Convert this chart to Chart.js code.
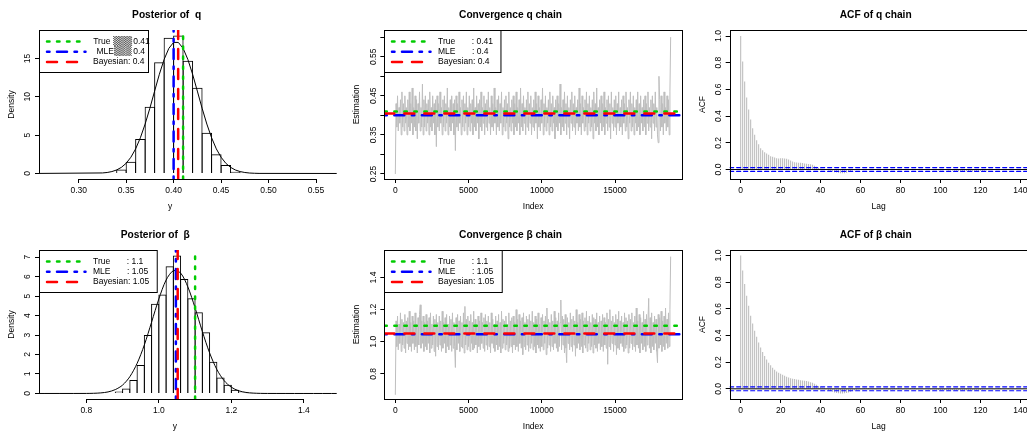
<!DOCTYPE html>
<html>
<head>
<meta charset="utf-8">
<script src="https://cdn.jsdelivr.net/npm/chart.js@4.4.1/dist/chart.umd.min.js"></script>
<style>
html,body{margin:0;padding:0;background:#fff;}
body{position:relative;width:1027px;height:432px;overflow:hidden;}
canvas{position:absolute;}
</style>
</head>
<body>
<canvas id="p1"></canvas><canvas id="p2"></canvas><canvas id="p3"></canvas>
<canvas id="p4"></canvas><canvas id="p5"></canvas><canvas id="p6"></canvas>
<script>
// ================= DATA =================
// reference values
const qTrue = 0.41, qMLE = 0.400, qBayes = 0.4048;
const bTrue = 1.10, bMLE = 1.047, bBayes = 1.052;
const ciACF = 0.0146;

// posterior histogram of q (bin mid-points, density)
const qBinWidth = 0.01;
const qBinMid = [0.275,0.285,0.295,0.305,0.315,0.325,0.335,0.345,0.355,0.365,0.375,0.385,0.395,0.405,0.415,0.425,0.435,0.445,0.455,0.465,0.475,0.485,0.495,0.505,0.515,0.525,0.535,0.545,0.555];
const qBinDensity = [0,0,0,0,0,0,0.06,0.52,1.52,4.5,8.7,14.5,17.7,18.0,14.7,11.2,5.3,2.5,1.1,0.22,0.03,0,0,0,0,0,0,0,0];
// density curve of q
const qDensX = [0.25,0.325,0.33,0.335,0.34,0.345,0.35,0.355,0.36,0.365,0.37,0.375,0.38,0.385,0.39,0.395,0.40,0.405,0.41,0.415,0.42,0.425,0.43,0.435,0.44,0.445,0.45,0.455,0.46,0.465,0.47,0.475,0.48,0.485,0.49,0.58];
const qDensY = [0,0.07,0.13,0.25,0.46,0.80,1.33,2.12,3.21,4.66,6.45,8.52,10.75,12.95,14.88,16.33,17.10,17.10,16.33,14.88,12.95,10.75,8.52,6.45,4.66,3.21,2.12,1.33,0.80,0.46,0.25,0.13,0.06,0.03,0.01,0];

// posterior histogram of beta
const bBinWidth = 0.02;
const bBinMid = [0.71,0.73,0.75,0.77,0.79,0.81,0.83,0.85,0.87,0.89,0.91,0.93,0.95,0.97,0.99,1.01,1.03,1.05,1.07,1.09,1.11,1.13,1.15,1.17,1.19,1.21,1.23,1.25,1.27,1.29,1.31,1.33,1.35,1.37,1.39,1.41,1.43,1.45];
const bBinDensity = [0,0,0,0,0,0,0,0,0.02,0.1,0.26,0.69,1.46,3.0,4.6,5.08,6.53,7.08,5.87,4.89,4.17,3.14,1.63,0.82,0.45,0.19,0.05,0.01,0,0,0,0,0,0,0,0,0,0];
const bDensX = [0.65,0.80,0.82,0.84,0.86,0.88,0.90,0.92,0.94,0.96,0.98,1.00,1.02,1.04,1.06,1.08,1.10,1.12,1.14,1.16,1.18,1.20,1.22,1.24,1.26,1.28,1.30,1.50];
const bDensY = [0,0.003,0.01,0.03,0.08,0.20,0.43,0.86,1.54,2.49,3.66,4.85,5.82,6.30,6.18,5.47,4.39,3.18,2.08,1.23,0.66,0.32,0.14,0.055,0.02,0.006,0.002,0];

// MCMC chains (thinned: one value every chainStep iterations)
const chainStep = 50;
const qChain = [
0.25,0.43,0.37,0.45,0.36,0.42,0.38,0.44,0.35,0.46,0.37,0.43,0.36,0.45,0.38,0.42,0.35,0.44,0.37,0.46,
0.36,0.43,0.38,0.47,0.35,0.42,0.37,0.45,0.36,0.44,0.34,0.43,0.38,0.46,0.36,0.42,0.37,0.48,0.35,0.44,
0.37,0.45,0.36,0.43,0.38,0.44,0.35,0.46,0.37,0.42,0.36,0.45,0.38,0.43,0.35,0.44,0.32,0.45,0.37,0.43,
0.36,0.46,0.38,0.42,0.35,0.44,0.37,0.45,0.36,0.43,0.38,0.47,0.35,0.42,0.37,0.44,0.36,0.45,0.38,0.43,
0.35,0.44,0.31,0.45,0.37,0.43,0.36,0.46,0.38,0.42,0.35,0.44,0.37,0.45,0.36,0.43,0.38,0.46,0.35,0.42,
0.37,0.45,0.36,0.43,0.38,0.44,0.35,0.47,0.37,0.42,0.36,0.45,0.38,0.43,0.34,0.44,0.37,0.46,0.36,0.42,
0.38,0.45,0.35,0.43,0.37,0.44,0.36,0.46,0.38,0.42,0.35,0.45,0.37,0.43,0.36,0.47,0.38,0.42,0.35,0.44,
0.37,0.45,0.36,0.43,0.38,0.46,0.35,0.42,0.37,0.44,0.36,0.45,0.38,0.43,0.34,0.46,0.37,0.42,0.36,0.44,
0.38,0.45,0.35,0.43,0.37,0.46,0.36,0.42,0.38,0.44,0.35,0.47,0.37,0.43,0.36,0.45,0.38,0.42,0.35,0.44,
0.37,0.46,0.36,0.43,0.38,0.45,0.35,0.42,0.37,0.44,0.36,0.46,0.38,0.43,0.34,0.45,0.37,0.42,0.36,0.44,
0.38,0.47,0.35,0.43,0.37,0.45,0.36,0.42,0.38,0.44,0.35,0.46,0.37,0.43,0.36,0.45,0.38,0.42,0.34,0.44,
0.37,0.45,0.36,0.43,0.38,0.48,0.35,0.42,0.37,0.44,0.36,0.46,0.38,0.43,0.35,0.45,0.37,0.42,0.34,0.44,
0.38,0.46,0.36,0.43,0.37,0.45,0.35,0.42,0.38,0.44,0.36,0.47,0.37,0.43,0.35,0.45,0.38,0.42,0.36,0.44,
0.37,0.46,0.35,0.43,0.38,0.45,0.36,0.42,0.37,0.44,0.34,0.46,0.38,0.43,0.36,0.47,0.37,0.42,0.35,0.44,
0.38,0.45,0.36,0.43,0.37,0.46,0.35,0.42,0.38,0.44,0.36,0.45,0.37,0.43,0.34,0.46,0.38,0.42,0.36,0.44,
0.37,0.45,0.35,0.43,0.38,0.46,0.36,0.42,0.37,0.44,0.35,0.45,0.38,0.43,0.36,0.46,0.37,0.42,0.34,0.44,
0.38,0.46,0.36,0.43,0.37,0.45,0.35,0.42,0.38,0.44,0.36,0.46,0.37,0.43,0.35,0.45,0.38,0.42,0.36,0.44,
0.37,0.45,0.35,0.43,0.38,0.46,0.36,0.42,0.37,0.44,0.34,0.45,0.38,0.43,0.36,0.46,0.37,0.42,0.35,0.33,
0.50,0.44,0.36,0.45,0.37,0.43,0.35,0.46,0.38,0.42,0.36,0.45,0.37,0.44,0.35,0.46,0.60];
const bChain = [
0.67,1.13,0.97,1.16,0.95,1.11,0.99,1.18,0.94,1.14,0.98,1.12,0.96,1.17,0.93,1.13,0.99,1.15,0.95,1.19,
0.97,1.12,0.94,1.16,0.99,1.13,0.95,1.18,0.97,1.11,0.93,1.15,0.98,1.17,1.23,0.96,1.13,0.99,1.16,0.94,
1.12,0.97,1.17,0.95,1.13,0.99,1.15,0.93,1.18,0.96,1.11,0.98,1.16,0.94,1.14,0.91,1.17,0.97,1.12,0.95,
1.16,0.98,1.13,0.94,1.19,0.96,1.12,0.99,1.15,0.93,1.17,0.97,1.11,0.95,1.16,0.98,1.14,0.94,1.18,0.96,
1.12,0.97,0.84,1.15,0.95,1.17,0.99,1.13,0.94,1.16,0.97,1.12,0.96,1.18,0.93,1.22,0.98,1.14,0.95,1.16,
0.97,1.13,0.94,1.17,0.99,1.12,0.95,1.19,0.96,1.14,0.98,1.11,0.93,1.16,0.97,1.13,0.95,1.18,0.99,1.12,
0.96,1.15,0.94,1.17,0.98,1.13,0.95,1.16,0.97,1.12,0.93,1.18,0.99,1.14,0.96,1.11,0.94,1.16,0.98,1.13,
0.95,1.17,0.97,1.12,0.93,1.19,0.96,1.14,0.99,1.13,0.95,1.16,0.98,1.11,0.94,1.18,0.96,1.13,0.97,1.15,
0.93,1.16,0.98,1.12,0.95,1.20,0.97,1.14,0.94,1.17,0.99,1.13,0.96,1.15,0.92,1.18,0.97,1.12,0.95,1.16,
0.98,1.14,0.94,1.17,0.96,1.13,0.99,1.19,0.95,1.12,0.97,1.16,0.93,1.14,0.98,1.18,0.96,1.11,0.94,1.15,
0.97,1.17,0.95,1.13,0.99,1.16,0.92,1.21,0.96,1.14,0.98,1.12,0.94,1.17,0.97,1.13,0.95,1.19,0.99,1.15,
0.96,1.13,0.94,1.18,0.97,1.12,1.26,0.95,1.16,0.98,1.14,0.93,1.17,0.96,0.87,1.15,0.99,1.12,0.95,1.18,
0.97,1.14,0.94,1.16,0.98,1.13,0.91,1.20,0.96,1.12,0.99,1.17,0.95,1.14,0.97,1.18,0.93,1.13,0.98,1.15,
0.96,1.19,0.94,1.13,0.99,1.16,0.95,1.12,0.97,1.17,0.93,1.15,0.98,1.14,0.96,1.18,0.94,1.12,0.99,1.16,
0.95,1.13,0.97,1.17,0.94,1.15,0.98,1.12,0.96,1.18,0.86,1.14,0.97,1.20,0.95,1.13,0.99,1.16,0.94,1.12,
0.98,1.17,0.92,1.14,0.96,1.19,0.95,1.13,0.99,1.16,0.97,1.12,0.94,1.18,0.96,1.15,0.98,1.13,0.93,1.17,
0.96,1.14,0.99,1.18,0.95,1.12,0.97,1.16,0.94,1.21,0.98,1.13,0.96,1.17,0.93,1.15,0.99,1.12,0.95,1.19,
0.97,1.14,0.94,1.17,0.98,1.13,1.27,0.96,1.15,0.93,1.18,0.97,1.12,0.95,1.16,0.99,1.14,0.94,0.87,1.17,
0.96,1.15,0.98,1.19,0.94,1.13,0.97,1.16,0.95,1.21,0.99,1.14,0.96,1.18,0.97,1.20,1.53];

// autocorrelation by lag (lag = position in array)
const acfQ = [
1.0,0.81,0.66,0.54,0.45,0.375,0.31,0.26,0.22,0.19,
0.16,0.145,0.13,0.12,0.11,0.10,0.095,0.09,0.085,0.083,
0.085,0.085,0.083,0.08,0.075,0.068,0.06,0.055,0.052,0.05,
0.05,0.048,0.045,0.043,0.042,0.04,0.035,0.028,0.02,0.012,
0.007,0.003,0.0,-0.003,-0.006,-0.01,-0.015,-0.02,-0.022,-0.025,
-0.027,-0.028,-0.027,-0.024,-0.018,-0.012,-0.008,-0.005,-0.003,0.002,
0.003,0.002,-0.002,0.001,0.004,0.003,0.001,-0.002,-0.003,0.001,
0.002,0.004,0.003,0.0,-0.002,-0.001,0.002,0.003,0.001,-0.002,
-0.003,-0.002,0.001,0.003,0.002,-0.001,-0.003,-0.002,0.001,0.002,
0.003,0.001,-0.002,-0.004,-0.003,0.0,0.002,0.001,-0.003,-0.005,
-0.006,-0.005,-0.004,-0.006,-0.007,-0.006,-0.008,-0.009,-0.01,-0.011,
-0.012,-0.013,-0.014,-0.013,-0.014,-0.015,-0.014,-0.013,-0.012,-0.013,
-0.012,-0.011,-0.009,-0.007,-0.005,-0.003,-0.002,0.0,0.001,0.002,
0.001,0.0,-0.001,0.001,0.002,0.001,0.0,-0.001,0.001];
const acfB = [
1.0,0.887,0.786,0.698,0.623,0.548,0.49,0.435,0.39,0.347,
0.31,0.276,0.246,0.219,0.196,0.176,0.158,0.143,0.13,0.12,
0.113,0.105,0.098,0.09,0.085,0.08,0.075,0.073,0.07,0.068,
0.065,0.063,0.06,0.058,0.055,0.05,0.045,0.038,0.03,0.022,
0.015,0.008,0.002,-0.004,-0.01,-0.016,-0.022,-0.027,-0.031,-0.034,
-0.035,-0.035,-0.034,-0.031,-0.027,-0.022,-0.016,-0.012,-0.008,-0.005,
-0.003,-0.001,0.001,0.002,0.001,0.0,-0.002,-0.003,-0.002,0.0,
0.002,0.003,0.002,0.001,-0.001,-0.002,-0.001,0.001,0.002,0.001,
0.0,-0.002,-0.003,-0.002,0.0,0.001,0.002,0.001,-0.001,-0.002,
-0.003,-0.004,-0.003,-0.004,-0.005,-0.006,-0.005,-0.006,-0.007,-0.008,
-0.008,-0.009,-0.01,-0.009,-0.01,-0.011,-0.01,-0.011,-0.012,-0.011,
-0.012,-0.013,-0.012,-0.013,-0.012,-0.011,-0.012,-0.011,-0.01,-0.009,
-0.008,-0.007,-0.006,-0.005,-0.004,-0.003,-0.002,-0.001,0.0,0.001,
0.001,0.0,-0.001,0.0,0.001,0.0,-0.001,0.0,0.001];

// axis ticks and their labels
const qXTicks = [0.30,0.35,0.40,0.45,0.50,0.55];
const qXTickLabels = ['0.30','0.35','0.40','0.45','0.50','0.55'];
const qYTicks = [0,5,10,15];
const qYTickLabels = ['0','5','10','15'];
const bXTicks = [0.8,1.0,1.2,1.4];
const bXTickLabels = ['0.8','1.0','1.2','1.4'];
const bYTicks = [0,1,2,3,4,5,6,7];
const bYTickLabels = ['0','1','2','3','4','5','6','7'];
const idxTicks = [0,5000,10000,15000];
const idxTickLabels = ['0','5000','10000','15000'];
const qTraceYTicks = [0.25,0.30,0.35,0.40,0.45,0.50,0.55,0.60];
const qTraceYTickLabels = ['0.25','','0.35','','0.45','','0.55',''];
const bTraceYTicks = [0.8,1.0,1.2,1.4];
const bTraceYTickLabels = ['0.8','1.0','1.2','1.4'];
const lagTicks = [0,20,40,60,80,100,120,140];
const lagTickLabels = ['0','20','40','60','80','100','120','140'];
const acfYTicks = [0,0.2,0.4,0.6,0.8,1.0];
const acfYTickLabels = ['0.0','0.2','0.4','0.6','0.8','1.0'];

// ================= STYLE / LAYOUT =================
Chart.defaults.font.family = "'Liberation Sans', Arial, Helvetica, sans-serif";
Chart.defaults.color = '#000';
const COL_X = [0, 345.33, 690.67], ROW_Y = [0, 220];
const PANEL_H = 220, PLOT_L = 39, PLOT_R = 336.7, PLOT_B = 179;
const PLOT_W = PLOT_R - PLOT_L;
const FS = 8.5, FS_MAIN = 10.2;
const GREEN = '#00cc00', BLUE = '#0000ff', RED = '#ff0000', GREY = '#bebebe';
const LWD = 2.5;
const DASH_TRUE = [2.5, 7.5], DASH_MLE = [2.5, 7.5, 10, 7.5], DASH_BAYES = [10, 10];

const xy = (xs, ys) => ys.map((v, i) => ({x: xs[i], y: v}));
const seq = (arr, step) => arr.map((v, i) => ({x: i * step, y: v}));
const vline = (v, y0, y1) => [{x: v, y: y0}, {x: v, y: y1}];
const hline = (v, x0, x1) => [{x: x0, y: v}, {x: x1, y: v}];
function refLine(data, color, dash, order, width) {
  return {type: 'line', data, borderColor: color, borderWidth: width || LWD, borderDash: dash,
          borderCapStyle: 'round', pointRadius: 0, clip: 0, order};
}
// histogram rectangles: widened by 1px so neighbouring outlines coincide (as R's rect())
function histBars(xs, ys, binWidth, xMin, xMax) {
  const binPx = binWidth / (xMax - xMin) * PLOT_W;
  return {type: 'bar', data: xy(xs, ys), backgroundColor: 'rgba(0,0,0,0)', borderColor: '#000',
          borderWidth: {top: 1, left: 1, right: 1, bottom: 0}, borderSkipped: false, inflateAmount: 0,
          barPercentage: (binPx + 1) / binPx, categoryPercentage: 1, order: 5};
}
function acfBars(vals) {
  return {type: 'bar', data: seq(vals, 1), backgroundColor: '#b8b8b8', barThickness: 1,
          inflateAmount: 0, borderWidth: 0, order: 4};
}

function makeRPlugin(s) {
  return {
    id: 'rStyle',
    afterDatasetsDraw(chart) {
      const {ctx, chartArea: a} = chart;
      const x = chart.scales.x, y = chart.scales.y;
      ctx.save();
      ctx.strokeStyle = '#000'; ctx.lineWidth = 1; ctx.setLineDash([]);
      const L = Math.round(a.left) + 0.5, B = Math.round(a.bottom) + 0.5;
      if (s.box) {
        const T = Math.round(a.top) + 0.5, R = Math.round(a.right) + 0.5;
        ctx.strokeRect(L, T, R - L, B - T);
      } else {
        const xt = x.ticks, yt = y.ticks;
        ctx.beginPath();
        ctx.moveTo(x.getPixelForValue(xt[0].value), B);
        ctx.lineTo(x.getPixelForValue(xt[xt.length - 1].value), B);
        ctx.moveTo(L, y.getPixelForValue(yt[0].value));
        ctx.lineTo(L, y.getPixelForValue(yt[yt.length - 1].value));
        ctx.stroke();
      }
      // rotated y tick labels (R style, las = 0)
      ctx.fillStyle = '#000';
      ctx.font = FS + "px 'Liberation Sans', Arial, sans-serif";
      ctx.textAlign = 'center'; ctx.textBaseline = 'middle';
      y.ticks.forEach((t, i) => {
        const lab = s.yTickLabels[i];
        if (!lab) return;
        ctx.save();
        ctx.translate(a.left - 11, y.getPixelForValue(t.value));
        ctx.rotate(-Math.PI / 2);
        ctx.fillText(lab, 0, 0);
        ctx.restore();
      });
      if (s.legend) drawLegend(ctx, a, s.legend);
      ctx.restore();
    }
  };
}

function drawLegend(ctx, a, lg) {
  const bx = Math.round(a.left) + 0.5, by = Math.round(a.top) + 0.5;
  const font = FS + "px 'Liberation Sans', Arial, sans-serif";
  ctx.font = font;
  let w = lg.width;
  if (!w) w = 53.5 + Math.max(...lg.items.map(it => ctx.measureText(it.text).width)) + 8;
  const h = 42;
  ctx.fillStyle = '#fff'; ctx.fillRect(bx, by, w, h);
  ctx.strokeStyle = '#000'; ctx.lineWidth = 1; ctx.setLineDash([]);
  ctx.strokeRect(bx, by, w, h);
  lg.items.forEach((it, i) => {
    const yy = by + 11 + i * 10.3;
    ctx.save();
    ctx.strokeStyle = it.color; ctx.lineWidth = LWD; ctx.lineCap = 'round'; ctx.setLineDash(it.dash);
    ctx.beginPath(); ctx.moveTo(bx + 7.5, yy); ctx.lineTo(bx + 46, yy); ctx.stroke();
    ctx.restore();
    ctx.textAlign = 'left'; ctx.textBaseline = 'middle';
    if (it.parts) {
      it.parts.forEach(p => {
        if (p.glyph) {
          ctx.font = "8.5px 'DejaVu Sans', sans-serif"; ctx.fillStyle = '#333';
          ctx.fillText(p.t, bx + p.dx, yy, p.w);
          ctx.font = font; ctx.fillStyle = '#000';
        } else {
          ctx.fillStyle = '#000'; ctx.fillText(p.t, bx + p.dx, yy);
        }
      });
    } else {
      ctx.fillStyle = '#000'; ctx.fillText(it.text, bx + 53.5, yy);
    }
  });
}

function buildPanel(id, s) {
  const cx = COL_X[s.col], cy = ROW_Y[s.row];
  const cl = Math.round(cx);
  const plotL = cx + PLOT_L, plotR = cx + PLOT_R;
  const W = Math.ceil(plotR - cl + 14);
  const pr = W - (plotR - cl);
  const el = document.getElementById(id);
  el.width = W; el.height = PANEL_H;
  el.style.left = cl + 'px'; el.style.top = cy + 'px';
  el.style.width = W + 'px'; el.style.height = PANEL_H + 'px';
  const yW = plotL - cl;
  const yTitlePad = (cx + 11.5) - cl - FS * 0.6;
  const grid = {display: true, drawOnChartArea: false, drawTicks: true, tickLength: 4,
                color: '#000', lineWidth: 1, offset: false};
  new Chart(el, {
    type: 'line',
    data: {datasets: s.datasets},
    options: {
      responsive: false, animation: false, events: [],
      layout: {padding: {left: 0, top: 0, bottom: 0, right: pr}},
      elements: {point: {radius: 0}, line: {borderJoinStyle: 'round', fill: false}},
      plugins: {
        legend: {display: false}, tooltip: {enabled: false},
        title: {display: true, text: s.title, fullSize: false, color: '#000',
                font: {size: FS_MAIN, weight: 'bold', lineHeight: 1.2}, padding: {top: 8.88, bottom: 8.88}}
      },
      scales: {
        x: {type: 'linear', min: s.xMin, max: s.xMax, bounds: 'data', offset: false,
            afterBuildTicks: sc => { sc.ticks = s.xTicks.map(v => ({value: v})); },
            afterFit: sc => { sc.height = PANEL_H - PLOT_B; },
            grid, border: {display: false},
            ticks: {autoSkip: false, maxRotation: 0, minRotation: 0, padding: 2.5, color: '#000',
                    font: {size: FS}, callback: (v, i) => s.xTickLabels[i]},
            title: {display: true, text: s.xTitle, color: '#000', font: {size: FS}, padding: {top: 0, bottom: 8.2}}},
        y: {type: 'linear', min: s.yMin, max: s.yMax, bounds: 'data',
            afterBuildTicks: sc => { sc.ticks = s.yTicks.map(v => ({value: v})); },
            afterFit: sc => { sc.width = yW; },
            grid, border: {display: false},
            ticks: {display: false},
            title: {display: true, text: s.yTitle, color: '#000', font: {size: FS}, padding: {top: yTitlePad, bottom: 0}}}
      }
    },
    plugins: [makeRPlugin(s)]
  });
}

// ================= PANELS =================
const legQ = [
  {color: GREEN, dash: DASH_TRUE, text: 'True       : 0.41'},
  {color: BLUE, dash: DASH_MLE, text: 'MLE       : 0.4'},
  {color: RED, dash: DASH_BAYES, text: 'Bayesian: 0.4'}];
const legB = [
  {color: GREEN, dash: DASH_TRUE, text: 'True       : 1.1'},
  {color: BLUE, dash: DASH_MLE, text: 'MLE       : 1.05'},
  {color: RED, dash: DASH_BAYES, text: 'Bayesian: 1.05'}];
const legQHist = [
  {color: GREEN, dash: DASH_TRUE, parts: [{t: 'True', dx: 53.7}, {t: '▒▒▒', dx: 73.7, w: 19, glyph: true}, {t: '0.41', dx: 93.7}]},
  {color: BLUE, dash: DASH_MLE, parts: [{t: 'MLE', dx: 57}, {t: '▒▒▒', dx: 74.5, w: 17.5, glyph: true}, {t: '0.4', dx: 93.7}]},
  {color: RED, dash: DASH_BAYES, text: 'Bayesian: 0.4'}];

// 1: posterior of q
(() => {
  const x0 = 0.2582, x1 = 0.5718, y0 = -0.72, y1 = 18.72;
  buildPanel('p1', {col: 0, row: 0, title: 'Posterior of  q               ', xTitle: 'y               ', yTitle: 'Density',
    xMin: x0, xMax: x1, yMin: y0, yMax: y1, xTicks: qXTicks, xTickLabels: qXTickLabels,
    yTicks: qYTicks, yTickLabels: qYTickLabels, box: false, legend: {width: 109, items: legQHist},
    datasets: [
      refLine(vline(qBayes, y0, y1), RED, DASH_BAYES, 1),
      refLine(vline(qMLE, y0, y1), BLUE, DASH_MLE, 2),
      refLine(vline(qTrue, y0, y1), GREEN, DASH_TRUE, 3),
      {type: 'line', data: xy(qDensX, qDensY), borderColor: '#000', borderWidth: 1, pointRadius: 0, order: 4},
      histBars(qBinMid, qBinDensity, qBinWidth, x0, x1)]});
})();
// 2: convergence q
(() => {
  const x0 = -752, x1 = 19576, y0 = 0.2372, y1 = 0.6183;
  buildPanel('p2', {col: 1, row: 0, title: 'Convergence q chain                ', xTitle: 'Index', yTitle: 'Estimation',
    xMin: x0, xMax: x1, yMin: y0, yMax: y1, xTicks: idxTicks, xTickLabels: idxTickLabels,
    yTicks: qTraceYTicks, yTickLabels: qTraceYTickLabels, box: true, legend: {items: legQ},
    datasets: [
      refLine(hline(qBayes, x0, x1), RED, DASH_BAYES, 1),
      refLine(hline(qMLE, x0, x1), BLUE, DASH_MLE, 2),
      refLine(hline(qTrue, x0, x1), GREEN, DASH_TRUE, 3),
      {type: 'line', data: seq(qChain, chainStep), borderColor: GREY, borderWidth: 1, pointRadius: 0, order: 4}]});
})();
// 3: ACF q
(() => {
  const x0 = -5.52, x1 = 143.52, y0 = -0.071, y1 = 1.045;
  buildPanel('p3', {col: 2, row: 0, title: 'ACF of q chain  ', xTitle: 'Lag', yTitle: 'ACF',
    xMin: x0, xMax: x1, yMin: y0, yMax: y1, xTicks: lagTicks, xTickLabels: lagTickLabels,
    yTicks: acfYTicks, yTickLabels: acfYTickLabels, box: true,
    datasets: [
      refLine(hline(ciACF, x0, x1), BLUE, [4, 3], 1, 1.2),
      refLine(hline(-ciACF, x0, x1), BLUE, [4, 3], 2, 1.2),
      refLine(hline(0, x0, x1), '#000', [], 3, 1),
      acfBars(acfQ)]});
})();
// 4: posterior of beta
(() => {
  const x0 = 0.6696, x1 = 1.4904, y0 = -0.283, y1 = 7.363;
  buildPanel('p4', {col: 0, row: 1, title: 'Posterior of  β                       ', xTitle: 'y           ', yTitle: 'Density',
    xMin: x0, xMax: x1, yMin: y0, yMax: y1, xTicks: bXTicks, xTickLabels: bXTickLabels,
    yTicks: bYTicks, yTickLabels: bYTickLabels, box: false, legend: {items: legB},
    datasets: [
      refLine(vline(bBayes, y0, y1), RED, DASH_BAYES, 1),
      refLine(vline(bMLE, y0, y1), BLUE, DASH_MLE, 2),
      refLine(vline(bTrue, y0, y1), GREEN, DASH_TRUE, 3),
      {type: 'line', data: xy(bDensX, bDensY), borderColor: '#000', borderWidth: 1, pointRadius: 0, tension: 0.3, order: 4},
      histBars(bBinMid, bBinDensity, bBinWidth, x0, x1)]});
})();
// 5: convergence beta
(() => {
  const x0 = -752, x1 = 19576, y0 = 0.644, y1 = 1.571;
  buildPanel('p5', {col: 1, row: 1, title: 'Convergence β chain                ', xTitle: 'Index', yTitle: 'Estimation',
    xMin: x0, xMax: x1, yMin: y0, yMax: y1, xTicks: idxTicks, xTickLabels: idxTickLabels,
    yTicks: bTraceYTicks, yTickLabels: bTraceYTickLabels, box: true, legend: {items: legB},
    datasets: [
      refLine(hline(bBayes, x0, x1), RED, DASH_BAYES, 1),
      refLine(hline(bMLE, x0, x1), BLUE, DASH_MLE, 2),
      refLine(hline(bTrue, x0, x1), GREEN, DASH_TRUE, 3),
      {type: 'line', data: seq(bChain, chainStep), borderColor: GREY, borderWidth: 1, pointRadius: 0, order: 4}]});
})();
// 6: ACF beta
(() => {
  const x0 = -5.52, x1 = 143.52, y0 = -0.0764, y1 = 1.0414;
  buildPanel('p6', {col: 2, row: 1, title: 'ACF of β chain  ', xTitle: 'Lag', yTitle: 'ACF',
    xMin: x0, xMax: x1, yMin: y0, yMax: y1, xTicks: lagTicks, xTickLabels: lagTickLabels,
    yTicks: acfYTicks, yTickLabels: acfYTickLabels, box: true,
    datasets: [
      refLine(hline(ciACF, x0, x1), BLUE, [4, 3], 1, 1.2),
      refLine(hline(-ciACF, x0, x1), BLUE, [4, 3], 2, 1.2),
      refLine(hline(0, x0, x1), '#000', [], 3, 1),
      acfBars(acfB)]});
})();
</script>
</body>
</html>
